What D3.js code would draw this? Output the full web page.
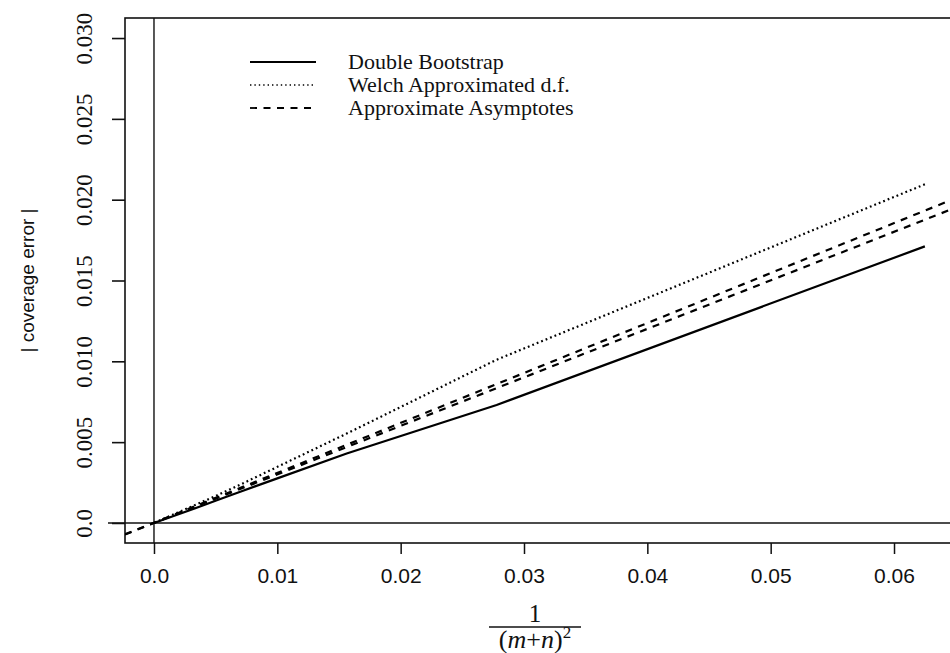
<!DOCTYPE html>
<html>
<head>
<meta charset="utf-8">
<script src="https://cdn.jsdelivr.net/npm/d3@7"></script>
<style>
  body { margin: 0; background: #fff; }
  svg { display: block; }
</style>
</head>
<body>
<svg width="950" height="653"></svg>
<script>

// DATA

// x = 1/(m+n)^2, m+n = 4, 6, 8, 10, 12, 14, 16 and the origin
var xVals = [0.0625, 0.02778, 0.015625, 0.01, 0.00694, 0.0051, 0.0039, 0];

// | coverage error |
var doubleBoot = [0.01711, 0.0073, 0.0043, 0.00276, 0.00192, 0.0014, 0.00106, 0];
var welchDf    = [0.02095, 0.0101, 0.00553, 0.00347, 0.00235, 0.0017, 0.0013, 0];

// the two asymptote lines, end points across the plot
var asymX     = [-0.00235, 0.0645];
var asymUpper = [-0.00072, 0.01994];
var asymLower = [-0.0007, 0.01936];

var xTicks = [0, 0.01, 0.02, 0.03, 0.04, 0.05, 0.06];
var xTickLabels = ["0.0", "0.01", "0.02", "0.03", "0.04", "0.05", "0.06"];
var yTicks = [0, 0.005, 0.01, 0.015, 0.02, 0.025, 0.03];
var yTickLabels = ["0.0", "0.005", "0.010", "0.015", "0.020", "0.025", "0.030"];

var legendLabels = ["Double Bootstrap", "Welch Approximated d.f.", "Approximate Asymptotes"];


// VIEW

var serif = "'Liberation Serif', 'Times New Roman', serif",
    sans = "'Liberation Sans', Arial, sans-serif";

var svg = d3.select("svg");

// plot box (runs off the right edge like the scan)
var boxLeft = 125, boxRight = 960, boxTop = 18, boxBottom = 543;

var x = d3.scaleLinear().domain([-0.00235, 0.06535]).range([boxLeft, boxRight]);
var y = d3.scaleLinear().domain([-0.00124, 0.03124]).range([boxBottom, boxTop]);

svg.append("clipPath").attr("id", "plotclip")
  .append("rect")
    .attr("x", boxLeft).attr("y", boxTop)
    .attr("width", boxRight - boxLeft).attr("height", boxBottom - boxTop);

// box
svg.append("rect")
    .attr("x", boxLeft).attr("y", boxTop)
    .attr("width", boxRight - boxLeft).attr("height", boxBottom - boxTop)
    .attr("fill", "none")
    .attr("stroke", "#111")
    .attr("stroke-width", 1.6);

// axes
var xAxis = svg.append("g")
    .attr("transform", "translate(0," + boxBottom + ")")
    .call(d3.axisBottom(x).tickValues(xTicks).tickSize(11).tickPadding(14)
      .tickFormat(function(d, i) { return xTickLabels[i]; }));
xAxis.attr("font-family", sans).attr("font-size", 21);
xAxis.select(".domain").remove();
xAxis.selectAll("line").attr("stroke", "#111").attr("stroke-width", 1.5);
xAxis.selectAll("text").attr("fill", "#111");

var yAxis = svg.append("g")
    .attr("transform", "translate(" + boxLeft + ",0)")
    .call(d3.axisLeft(y).tickValues(yTicks).tickSize(13)
      .tickFormat(function(d, i) { return yTickLabels[i]; }));
yAxis.attr("font-family", serif).attr("font-size", 23);
yAxis.select(".domain").remove();
yAxis.selectAll("line").attr("stroke", "#111").attr("stroke-width", 1.6);
yAxis.selectAll("text")
    .attr("x", 0).attr("y", 0).attr("dy", null)
    .attr("transform", "translate(-33,0) rotate(-90)")
    .attr("text-anchor", "middle")
    .attr("fill", "#111");

// reference lines at zero (they run out over the ticks)
svg.append("line")
    .attr("x1", boxLeft - 17).attr("x2", boxRight)
    .attr("y1", y(0)).attr("y2", y(0))
    .attr("stroke", "#111").attr("stroke-width", 1.6);
svg.append("line")
    .attr("x1", x(0)).attr("x2", x(0))
    .attr("y1", boxTop).attr("y2", boxBottom)
    .attr("stroke", "#111").attr("stroke-width", 1.4);

// series
var plot = svg.append("g").attr("clip-path", "url(#plotclip)");

var line = d3.line()
    .x(function(d) { return x(d[0]); })
    .y(function(d) { return y(d[1]); });

function pairs(xs, ys) { return xs.map(function(v, i) { return [v, ys[i]]; }); }

plot.append("path")
    .attr("d", line(pairs(xVals, doubleBoot)))
    .attr("fill", "none").attr("stroke", "#000").attr("stroke-width", 2.2);

plot.append("path")
    .attr("d", line(pairs(xVals, welchDf)))
    .attr("fill", "none").attr("stroke", "#000").attr("stroke-width", 2.2)
    .attr("stroke-dasharray", "1.8,3");

[asymUpper, asymLower].forEach(function(ys) {
  plot.append("path")
      .attr("d", line(pairs(asymX, ys)))
      .attr("fill", "none").attr("stroke", "#000").attr("stroke-width", 2.2)
      .attr("stroke-dasharray", "7,6.5");
});

// legend
var legendStyles = [
  {dash: null, width: 2.2},
  {dash: "1.4,3", width: 1.6},
  {dash: "7,6.5", width: 1.8}
];
var legend = svg.append("g").attr("transform", "translate(250,62)");
legendLabels.forEach(function(label, i) {
  var row = legend.append("g").attr("transform", "translate(0," + (i * 23) + ")");
  row.append("line")
      .attr("x1", 0).attr("x2", 66)
      .attr("y1", 0).attr("y2", 0)
      .attr("stroke", "#000")
      .attr("stroke-width", legendStyles[i].width)
      .attr("stroke-dasharray", legendStyles[i].dash);
  row.append("text")
      .attr("x", 98).attr("y", 7)
      .attr("font-family", serif)
      .attr("font-size", 22)
      .attr("fill", "#111")
      .text(label);
});

// y axis title
svg.append("text")
    .attr("transform", "translate(34," + ((boxTop + boxBottom) / 2) + ") rotate(-90)")
    .attr("text-anchor", "middle")
    .attr("font-family", sans)
    .attr("font-size", 19)
    .attr("fill", "#111")
    .text("| coverage error |");

// x axis title: 1 / (m+n)^2
var cx = 535;
var frac = svg.append("g").attr("font-family", serif).attr("fill", "#111");
frac.append("text")
    .attr("x", cx).attr("y", 622)
    .attr("text-anchor", "middle")
    .attr("font-size", 25)
    .text("1");
frac.append("line")
    .attr("x1", cx - 46).attr("x2", cx + 46)
    .attr("y1", 627).attr("y2", 627)
    .attr("stroke", "#111").attr("stroke-width", 1.4);
var den = frac.append("text")
    .attr("x", cx).attr("y", 648)
    .attr("text-anchor", "middle")
    .attr("font-size", 26);
den.append("tspan").text("(");
den.append("tspan").attr("font-style", "italic").text("m");
den.append("tspan").text("+");
den.append("tspan").attr("font-style", "italic").text("n");
den.append("tspan").text(")");
den.append("tspan").attr("font-size", 17).attr("dy", -10).text("2");

</script>
</body>
</html>
